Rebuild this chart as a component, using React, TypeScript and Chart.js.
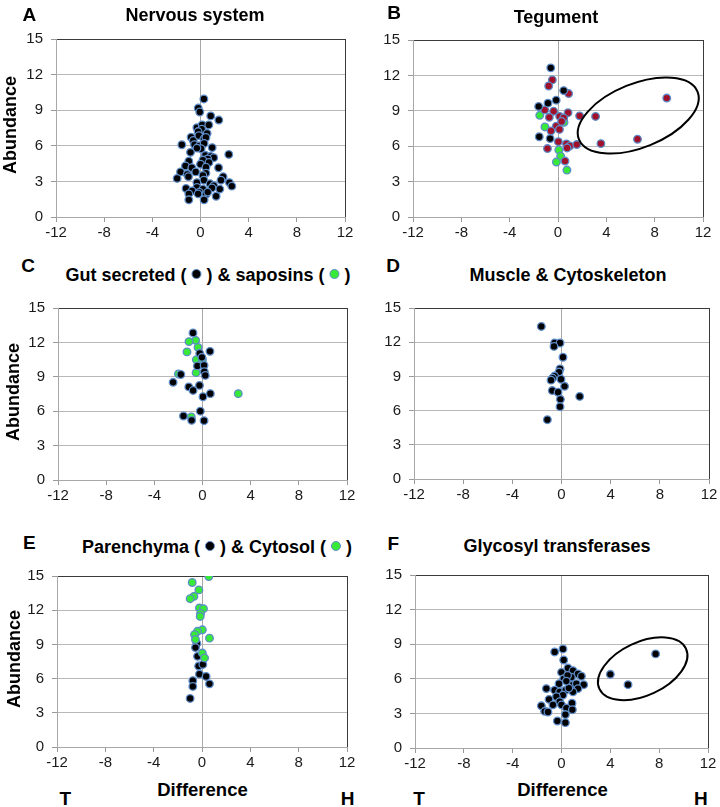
import React, { useEffect, useRef } from "react";
import { Chart, registerables } from "chart.js";
Chart.register(...registerables);

type Pt = [number, number];

// ---- tick labels ----
const xTicks = [-12, -8, -4, 0, 4, 8, 12];
const yTicks = [0, 3, 6, 9, 12, 15];

// ---- A: Nervous system ----
const nervous: Pt[] = [
  [0.28, 9.95], [-0.19, 9.18], [-0.06, 8.85], [0.85, 8.52], [1.52, 8.17], [-0.3, 7.52], [0.14, 7.76], [0.69, 7.76],
  [0.1, 7.4], [0.55, 7.05], [-0.2, 7.2], [-0.78, 6.72], [-0.6, 6.45], [-0.14, 6.86], [0.28, 6.58], [0.45, 6.7],
  [-1.55, 6.09], [-0.5, 6.1], [-0.1, 6.0], [0.3, 6.2], [0.05, 5.75], [-0.3, 5.8], [0.97, 5.85], [-0.83, 5.45],
  [2.35, 5.27], [0.4, 5.2], [0.85, 5.1], [1.1, 5.0], [0.6, 4.9], [-0.97, 4.7], [0.2, 4.8], [0.7, 4.6], [0.0, 4.45],
  [1.5, 4.15], [-1.25, 4.3], [-0.72, 4.15], [0.45, 4.2], [-1.66, 3.8], [-0.4, 3.8], [0.45, 3.7], [-1.1, 3.6],
  [0.2, 3.5], [1.88, 3.39], [-1.94, 3.25], [-1.0, 3.4], [0.28, 3.1], [1.7, 3.1], [-0.3, 2.9], [2.4, 2.9], [2.6, 2.6],
  [0.8, 2.8], [1.1, 2.65], [1.6, 2.35], [-1.2, 2.4], [-0.3, 2.5], [0.2, 2.35], [0.95, 2.45], [-0.7, 2.2], [-0.1, 2.1],
  [-0.97, 1.95], [-0.2, 1.95], [0.45, 1.9], [1.3, 1.75], [-0.97, 1.45], [0.3, 1.45], [0.6, 2.1],
];

// ---- B: Tegument ----
const tegumentBlack: Pt[] = [
  [-0.6, 12.64], [0.47, 10.71], [-0.15, 9.9], [-0.83, 9.65], [-1.6, 9.37], [-1.55, 6.8], [-0.65, 6.65],
];
const tegumentRed: Pt[] = [
  [-0.47, 11.62], [-0.77, 11.1], [0.88, 10.46], [-1.1, 9.07], [-0.36, 8.96], [-0.72, 8.45], [0.83, 8.84],
  [0.14, 8.52], [0.47, 8.4], [1.79, 8.57], [3.11, 8.52], [-0.14, 7.7], [-0.58, 7.3], [0.12, 7.42], [0.3, 8.1],
  [0.03, 6.38], [-0.87, 5.8], [0.7, 6.2], [0.98, 6.02], [1.55, 6.14], [0.75, 5.85], [3.55, 6.22], [6.58, 6.59],
  [9.0, 10.08], [0.58, 4.74],
];
const tegumentGreen: Pt[] = [
  [-1.51, 8.62], [-1.08, 7.63], [0.5, 8.02], [0.07, 5.68], [0.22, 5.15], [-0.13, 4.66], [0.74, 3.98],
];

// ---- C: Gut secreted & saposins ----
const gutSecreted: Pt[] = [
  [-0.79, 12.83], [0.62, 11.22], [-0.23, 11.05], [-0.05, 10.7], [-0.42, 9.95], [0.13, 10.0], [0.15, 9.44],
  [0.23, 9.12], [-1.8, 9.2], [-2.44, 8.52], [-1.14, 8.12], [-0.25, 8.25], [-0.78, 7.81], [0.65, 7.53],
  [0.04, 7.26], [-0.18, 6.0], [-1.58, 5.58], [-0.9, 5.2], [0.13, 5.17],
];
const saposins: Pt[] = [
  [-0.57, 12.18], [-1.12, 12.07], [-0.37, 11.56], [-1.29, 11.17], [-0.51, 10.49], [0.0, 10.49], [-0.53, 9.36],
  [-2.0, 9.25], [2.97, 7.53], [-0.93, 5.5],
];

// ---- D: Muscle & Cytoskeleton ----
const muscle: Pt[] = [
  [-1.64, 13.38], [-0.56, 11.93], [-0.12, 11.93], [-0.61, 11.63], [0.12, 10.68], [-0.12, 9.66], [-0.2, 9.38],
  [-0.56, 9.03], [-0.72, 8.85], [-0.85, 8.67], [-0.04, 8.75], [0.25, 8.13], [-0.75, 7.76], [-0.28, 7.61],
  [1.48, 7.24], [-0.09, 6.99], [-0.12, 6.34], [-1.15, 5.2],
];

// ---- E: Parenchyma & Cytosol ----
const cytosol: Pt[] = [
  [0.56, 14.95], [-0.81, 14.43], [-0.26, 13.78], [-0.67, 13.21], [-0.98, 13.01], [-0.21, 12.2], [0.12, 12.13],
  [-0.12, 11.72], [-0.15, 11.45], [0.03, 10.28], [-0.37, 10.15], [-0.62, 9.86], [0.62, 9.55], [-0.54, 9.43],
  [0.03, 8.24], [0.21, 7.81],
];
const parenchyma: Pt[] = [
  [-0.43, 9.08], [-0.54, 8.72], [-0.37, 7.95], [-0.28, 7.1], [0.07, 7.24], [-0.21, 6.39], [0.34, 6.19],
  [-0.76, 5.82], [-0.76, 5.31], [0.62, 5.54], [-0.98, 4.26],
];

// ---- F: Glycosyl transferases ----
const glycosyl: Pt[] = [
  [-0.56, 8.33], [0.12, 8.59], [0.18, 7.63], [0.0, 6.56], [0.53, 6.93], [0.94, 6.7], [1.35, 6.42], [1.63, 6.22],
  [0.81, 6.14], [0.18, 6.0], [0.5, 6.3], [-0.2, 5.57], [-1.24, 5.15], [-0.56, 5.01], [-0.15, 4.87], [0.34, 5.01],
  [0.81, 5.43], [1.22, 5.57], [1.82, 5.49], [1.35, 5.15], [0.94, 4.87], [0.12, 4.59], [0.6, 5.2], [0.4, 5.8],
  [-0.42, 4.45], [-1.02, 4.22], [-0.15, 4.02], [0.86, 3.88], [-0.7, 3.74], [-1.65, 3.66], [0.0, 3.74], [0.4, 3.46],
  [0.89, 3.32], [-1.38, 3.18], [-1.11, 3.12], [0.32, 2.9], [-0.34, 2.34], [0.32, 2.2], [4.0, 6.39], [5.45, 5.49],
  [7.71, 8.16],
];

// ---- styling ----
const FONT = '"Liberation Sans", Arial, Helvetica, sans-serif';
const EDGE = "#5d8cc8";
const BLACK = "#000000";
const RED = "#a0102a";
const GREEN = "#38ea38";

type Ell = { cx: number; cy: number; rx: number; ry: number; angle: number };

function ds(label: string, pts: Pt[], fill: string) {
  return {
    label,
    data: pts.map(([x, y]) => ({ x, y })),
    backgroundColor: fill,
    borderColor: EDGE,
    borderWidth: 1.3,
    pointRadius: 3.8,
    pointHoverRadius: 3.8,
    showLine: false,
  };
}

const W = 50, H = 28, PT = 12, PR = 14;

function Panel({ area, datasets, ellipse }: { area: number[]; datasets: any[]; ellipse?: Ell }) {
  const ref = useRef<HTMLCanvasElement>(null);
  const [l, t, r, b] = area;
  const cw = r - l + W + PR;
  const ch = b - t + PT + H;
  useEffect(() => {
    const ellPlugin = {
      id: "ellipseMark",
      afterDatasetsDraw(chart: any) {
        if (!ellipse) return;
        const { ctx } = chart;
        const xs = chart.scales.x, ys = chart.scales.y;
        const cx = xs.getPixelForValue(ellipse.cx);
        const cy = ys.getPixelForValue(ellipse.cy);
        const unit = Math.abs(xs.getPixelForValue(1) - xs.getPixelForValue(0));
        ctx.save();
        ctx.beginPath();
        ctx.ellipse(cx, cy, ellipse.rx * unit, ellipse.ry * unit, (-ellipse.angle * Math.PI) / 180, 0, Math.PI * 2);
        ctx.lineWidth = 2;
        ctx.strokeStyle = "#000";
        ctx.stroke();
        ctx.restore();
      },
    };
    const chart = new Chart(ref.current as HTMLCanvasElement, {
      type: "scatter",
      data: { datasets },
      options: {
        responsive: false,
        animation: false,
        devicePixelRatio: 1,
        layout: { padding: { left: 0, top: PT, right: PR, bottom: 0 } },
        plugins: { legend: { display: false }, tooltip: { enabled: false } },
        scales: {
          x: {
            type: "linear",
            min: -12,
            max: 12,
            afterBuildTicks: (s: any) => { s.ticks = xTicks.map((v) => ({ value: v })); },
            afterFit: (s: any) => { s.height = H; },
            grid: {
              color: (c: any) => (c.tick && c.tick.value === 0 ? "#a8a8a8" : c.tick && c.tick.value === 12 ? "#3a3a3a" : "rgba(0,0,0,0)"),
              tickColor: "#9a9a9a",
              tickLength: 5,
              lineWidth: 1,
            },
            border: { display: true, color: "#a8a8a8" },
            ticks: { autoSkip: false, maxRotation: 0, padding: 2, color: "#1a1a1a", font: { family: FONT, size: 15 } },
          },
          y: {
            type: "linear",
            min: 0,
            max: 15,
            afterBuildTicks: (s: any) => { s.ticks = yTicks.map((v) => ({ value: v })); },
            afterFit: (s: any) => { s.width = W; },
            grid: {
              color: (c: any) => (c.tick && c.tick.value === 15 ? "#3a3a3a" : "#b8b8b8"),
              tickColor: "#9a9a9a",
              tickLength: 5,
              lineWidth: 1,
            },
            border: { display: true, color: "#a8a8a8" },
            ticks: { autoSkip: false, padding: 8, color: "#1a1a1a", font: { family: FONT, size: 15 } },
          },
        },
      } as any,
      plugins: [ellPlugin],
    });
    return () => chart.destroy();
  }, []);
  return (
    <canvas
      ref={ref}
      width={cw}
      height={ch}
      style={{ position: "absolute", left: l - W, top: t - PT, width: cw, height: ch }}
    />
  );
}

function Txt({ x, y, size, children, rotate }: { x: number; y: number; size: number; children: any; rotate?: boolean }) {
  return (
    <div
      style={{
        position: "absolute",
        left: x,
        top: y,
        transform: `translate(-50%,-50%)${rotate ? " rotate(-90deg)" : ""}`,
        fontFamily: FONT,
        fontWeight: 700,
        fontSize: size,
        lineHeight: 1,
        whiteSpace: "nowrap",
        color: "#000",
      }}
    >
      {children}
    </div>
  );
}

function Dot({ fill }: { fill: string }) {
  return (
    <span
      style={{
        display: "inline-block",
        width: 8,
        height: 8,
        borderRadius: "50%",
        background: fill,
        border: `1.5px solid ${EDGE}`,
        verticalAlign: "middle",
        position: "relative",
        top: -2,
        margin: "0 5px",
      }}
    />
  );
}

export default function App() {
  return (
    <div style={{ position: "absolute", left: 0, top: 0, width: 720, height: 807, background: "#fff", overflow: "hidden" }}>
      <Panel area={[56, 34, 345, 217]} datasets={[ds("Nervous system", nervous, BLACK)]} />
      <Panel
        area={[413, 35, 703, 217]}
        datasets={[ds("Black", tegumentBlack, BLACK), ds("Red", tegumentRed, RED), ds("Green", tegumentGreen, GREEN)]}
        ellipse={{ cx: 6.64, cy: 8.6, rx: 5.29, ry: 2.64, angle: 22 }}
      />
      <Panel area={[58, 303, 347, 480]} datasets={[ds("Gut secreted", gutSecreted, BLACK), ds("Saposins", saposins, GREEN)]} />
      <Panel area={[414, 303, 709, 479]} datasets={[ds("Muscle & Cytoskeleton", muscle, BLACK)]} />
      <Panel area={[57, 571, 347, 747]} datasets={[ds("Cytosol", cytosol, GREEN), ds("Parenchyma", parenchyma, BLACK)]} />
      <Panel
        area={[415, 570, 708, 748]}
        datasets={[ds("Glycosyl transferases", glycosyl, BLACK)]}
        ellipse={{ cx: 6.65, cy: 6.87, rx: 3.91, ry: 2.18, angle: 25 }}
      />

      <Txt x={29.3} y={14} size={19}>A</Txt>
      <Txt x={195} y={14.5} size={18}>Nervous system</Txt>
      <Txt x={394} y={12} size={19}>B</Txt>
      <Txt x={556} y={17} size={18}>Tegument</Txt>
      <Txt x={28} y={265} size={19}>C</Txt>
      <Txt x={208} y={274.5} size={18}>
        Gut secreted (<Dot fill={BLACK} />) &amp; saposins (<Dot fill={GREEN} />)
      </Txt>
      <Txt x={393} y={265} size={19}>D</Txt>
      <Txt x={568} y={275} size={18}>Muscle &amp; Cytoskeleton</Txt>
      <Txt x={29.3} y={541.7} size={19}>E</Txt>
      <Txt x={217} y={546.7} size={18}>
        Parenchyma (<Dot fill={BLACK} />) &amp; Cytosol (<Dot fill={GREEN} />)
      </Txt>
      <Txt x={393.3} y={542.5} size={19}>F</Txt>
      <Txt x={557} y={545.8} size={18}>Glycosyl transferases</Txt>

      <Txt x={10.3} y={125} size={18} rotate>Abundance</Txt>
      <Txt x={13.3} y={392} size={18} rotate>Abundance</Txt>
      <Txt x={13.7} y={659} size={18} rotate>Abundance</Txt>
      <Txt x={202.5} y={790} size={18.5}>Difference</Txt>
      <Txt x={562.5} y={790} size={18.5}>Difference</Txt>
      <Txt x={65.3} y={798.3} size={19}>T</Txt>
      <Txt x={347.5} y={798.3} size={19}>H</Txt>
      <Txt x={419} y={798.3} size={19}>T</Txt>
      <Txt x={700.8} y={798.3} size={19}>H</Txt>
    </div>
  );
}
